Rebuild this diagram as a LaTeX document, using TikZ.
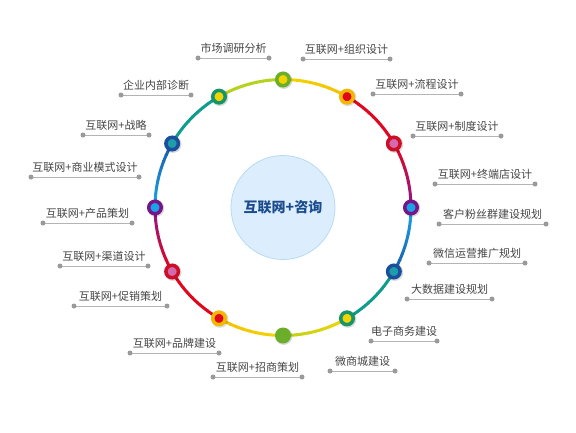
\documentclass[tikz,border=0pt]{standalone}
\usepackage{fontspec}
\newfontfamily\cjk{Noto Sans CJK SC}
\usetikzlibrary{calc}
\definecolor{discfill}{HTML}{DCEEFD}
\definecolor{discedge}{HTML}{B6DAF4}
\definecolor{hubtext}{HTML}{1C4C8E}
\definecolor{labgray}{HTML}{454545}
\definecolor{linegray}{HTML}{B4B4B4}
\definecolor{tipgray}{HTML}{9A9A9A}
\definecolor{yelA}{HTML}{F2D400}
\definecolor{yelB}{HTML}{F5BE00}
\definecolor{limeA}{HTML}{B4D21E}
\definecolor{redA}{HTML}{E0061E}
\definecolor{purA}{HTML}{8A1A90}
\definecolor{bluA}{HTML}{1AA3E6}
\definecolor{bluB}{HTML}{1A56A6}
\definecolor{tealA}{HTML}{0E9C8C}
\definecolor{gold}{HTML}{F5B800}
\definecolor{redB}{HTML}{CC0F26}
\definecolor{pinkA}{HTML}{D46AAE}
\definecolor{purB}{HTML}{74168A}
\definecolor{navy}{HTML}{1B4E9C}
\definecolor{tealB}{HTML}{1E9EA8}
\definecolor{tealC}{HTML}{17946A}
\definecolor{leaf}{HTML}{6AAE2A}
\begin{document}
\begin{tikzpicture}[x=1pt,y=-1pt,
  labline/.style={draw=linegray,line width=0.9pt},
  labtext/.style={font=\cjk\fontsize{11}{13}\selectfont,text=labgray,inner sep=0pt},
  knot/.style={circle,inner sep=0pt,minimum size=12.5pt,line width=3.5pt}]
\useasboundingbox (0,0) rectangle (576,432);
\coordinate (O) at (283,207.5);

% Centre disc.
\node[circle,minimum size=104pt,inner sep=0pt,fill=discfill,draw=discedge,line width=0.8pt,
  font=\cjk\bfseries\fontsize{14}{16}\selectfont,text=hubtext] (hub) at (O) {互联网+咨询};

% Ring, one 30 degree segment at a time, colour blended along it.
\foreach \a/\ca/\cb in {-90/yelA/yelB,-60/redA/redA,-30/redA/purA,0/bluA/bluB,
  30/tealA/tealA,60/yelA/limeA,90/yelA/yelB,120/redA/redA,150/redA/purA,
  180/bluA/bluB,210/tealA/tealA,240/limeA/limeA} {
  \foreach \k [evaluate=\k as \p using int(10*\k)] in {0,...,9} {
    \draw[line width=3pt,\cb!\p!\ca] (O) ++(\a+3*\k:128) arc[start angle=\a+3*\k,end angle=\a+3*\k+3.3,radius=128];
  }
}

% Knots on the ring.
\foreach \a/\co/\ci [count=\n] in {-90/leaf/yelA,-60/gold/redA,-30/redB/pinkA,0/purB/bluA,
  30/navy/tealB,60/tealC/yelA,120/gold/redA,150/redB/pinkA,180/purB/bluA,
  210/navy/tealB,240/tealC/yelA} {
  \fill[black,opacity=0.15] ($(O)+(\a:128)+(0.8,0.8)$) circle (8.6);
  \node[knot,draw=\co,fill=\ci] (k\n) at ($(O)+(\a:128)$) {};
}
\fill[black,opacity=0.15] ($(O)+(90:128)+(0.8,0.8)$) circle (8.6);
\node[circle,inner sep=0pt,minimum size=16pt,fill=leaf] (kb) at ($(O)+(90:128)$) {};

% Labels over grey rules.
\foreach \xa/\xb/\yy/\txt [count=\n] in {
  198/269/58/市场调研分析,
  303/390/59/互联网+组织设计,
  373/461/94/互联网+流程设计,
  413/501/136/互联网+制度设计,
  435/535/184/互联网+终端店设计,
  439/546/224/客户粉丝群建设规划,
  429/525/263/微信运营推广规划,
  407/492/299/大数据建设规划,
  371/437/341/电子商务建设,
  330/395/371/微商城建设,
  213/302/377/互联网+招商策划,
  130/219/353/互联网+品牌建设,
  74/167/306/互联网+促销策划,
  60/148/266/互联网+渠道设计,
  43/132/223/互联网+产品策划,
  31/139/177/互联网+商业模式设计,
  83/149/135/互联网+战略,
  121/191/95/企业内部诊断} {
  \coordinate (la\n) at (\xa,\yy);
  \coordinate (lb\n) at (\xb,\yy);
  \draw[labline] (la\n) -- (lb\n);
  \fill[tipgray] (la\n) circle (2.5) (lb\n) circle (2.5);
  \node[labtext] (t\n) at ($(la\n)!0.5!(lb\n)+(0,-9.5)$) {\txt};
}
\end{tikzpicture}
\end{document}
